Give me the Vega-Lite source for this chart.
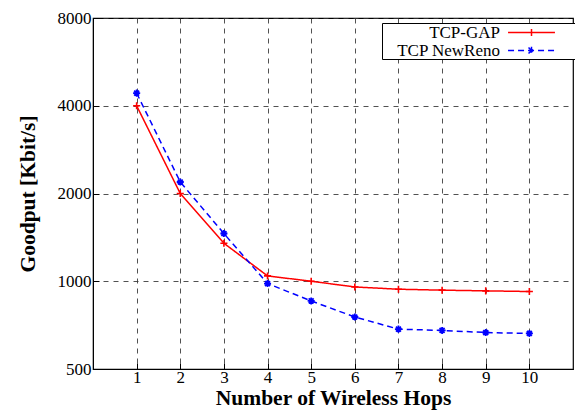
{
  "$schema": "https://vega.github.io/schema/vega-lite/v6.json",
  "width": 480,
  "height": 351,
  "autosize": "none",
  "padding": {"left": 93, "top": 18, "right": 2, "bottom": 48},
  "background": "white",
  "config": {
    "view": {"stroke": "black", "strokeWidth": 1.2},
    "font": "Liberation Serif",
    "axis": {
      "labelFont": "Liberation Serif",
      "labelFontSize": 17,
      "labelColor": "black",
      "titleFont": "Liberation Serif",
      "titleFontSize": 21.5,
      "titleFontWeight": "bold",
      "titleColor": "black",
      "domainColor": "black",
      "tickColor": "black",
      "gridColor": "#333333",
      "gridDash": [5, 5],
      "gridWidth": 1,
      "gridOpacity": 0.85
    }
  },
  "data": {
    "values": [
      {"hops": 1, "series": "TCP-GAP", "goodput": 4000},
      {"hops": 2, "series": "TCP-GAP", "goodput": 2000},
      {"hops": 3, "series": "TCP-GAP", "goodput": 1350},
      {"hops": 4, "series": "TCP-GAP", "goodput": 1043},
      {"hops": 5, "series": "TCP-GAP", "goodput": 1000},
      {"hops": 6, "series": "TCP-GAP", "goodput": 956},
      {"hops": 7, "series": "TCP-GAP", "goodput": 939},
      {"hops": 8, "series": "TCP-GAP", "goodput": 932},
      {"hops": 9, "series": "TCP-GAP", "goodput": 927},
      {"hops": 10, "series": "TCP-GAP", "goodput": 922},
      {"hops": 1, "series": "TCP NewReno", "goodput": 4420},
      {"hops": 2, "series": "TCP NewReno", "goodput": 2190},
      {"hops": 3, "series": "TCP NewReno", "goodput": 1458},
      {"hops": 4, "series": "TCP NewReno", "goodput": 982},
      {"hops": 5, "series": "TCP NewReno", "goodput": 856},
      {"hops": 6, "series": "TCP NewReno", "goodput": 754},
      {"hops": 7, "series": "TCP NewReno", "goodput": 685},
      {"hops": 8, "series": "TCP NewReno", "goodput": 678},
      {"hops": 9, "series": "TCP NewReno", "goodput": 667},
      {"hops": 10, "series": "TCP NewReno", "goodput": 662}
    ]
  },
  "encoding": {
    "x": {
      "field": "hops",
      "type": "quantitative",
      "scale": {"domain": [0, 11], "nice": false},
      "axis": {
        "title": "Number of Wireless Hops",
        "values": [1, 2, 3, 4, 5, 6, 7, 8, 9, 10],
        "format": "d",
        "tickSize": -6,
        "labelPadding": 6,
        "titlePadding": 2,
        "grid": true
      }
    },
    "y": {
      "field": "goodput",
      "type": "quantitative",
      "scale": {"type": "log", "base": 2, "domain": [500, 8000], "nice": false},
      "axis": {
        "title": "Goodput [Kbit/s]",
        "values": [500, 1000, 2000, 4000, 8000],
        "format": "d",
        "tickSize": -6,
        "labelPadding": 8,
        "titlePadding": 18,
        "grid": true
      }
    }
  },
  "layer": [
    {
      "mark": {"type": "line", "strokeWidth": 1.5},
      "encoding": {
        "color": {
          "field": "series",
          "type": "nominal",
          "scale": {"domain": ["TCP-GAP", "TCP NewReno"], "range": ["#ff0000", "#0000ff"]},
          "legend": {
            "title": null,
            "orient": "none",
            "legendX": 289,
            "legendY": 5,
            "labelFont": "Liberation Serif",
            "labelFontSize": 17,
            "labelColor": "black",
            "labelAlign": "right",
            "labelOffset": -41,
            "symbolOffset": 140,
            "symbolSize": 289,
            "symbolStrokeWidth": 1.5,
            "symbolType": "M-2.76,0H2.76M0,-0.41V0.41",
            "rowPadding": 0,
            "strokeColor": "black",
            "fillColor": "white",
            "padding": 0,
            "encode": {
              "symbols": {
                "update": {
                  "shape": {"signal": "datum.value === 'TCP-GAP' ? 'M4.76,0M-2.76,0H2.76M0,-0.41V0.41' : 'M4.76,0M-2.76,0H2.76M-0.35,-0.35L0.35,0.35M-0.35,0.35L0.35,-0.35M0,-0.45V0.45'"}
                }
              }
            }
          }
        },
        "strokeDash": {
          "field": "series",
          "type": "nominal",
          "scale": {"domain": ["TCP-GAP", "TCP NewReno"], "range": [[1, 0], [6, 4]]}
        }
      }
    },
    {
      "transform": [{"filter": "datum.series === 'TCP-GAP'"}],
      "mark": {"type": "point", "filled": false, "strokeWidth": 1.6, "opacity": 1, "color": "#ff0000", "shape": "M-1,0H1M0,-1V1", "size": 50}
    },
    {
      "transform": [{"filter": "datum.series === 'TCP NewReno'"}],
      "mark": {"type": "point", "filled": false, "strokeWidth": 1.8, "opacity": 1, "color": "#0000ff", "shape": "M-1,0H1M0,-1V1M-0.7,-0.7L0.7,0.7M-0.7,0.7L0.7,-0.7", "size": 50}
    }
  ]
}
